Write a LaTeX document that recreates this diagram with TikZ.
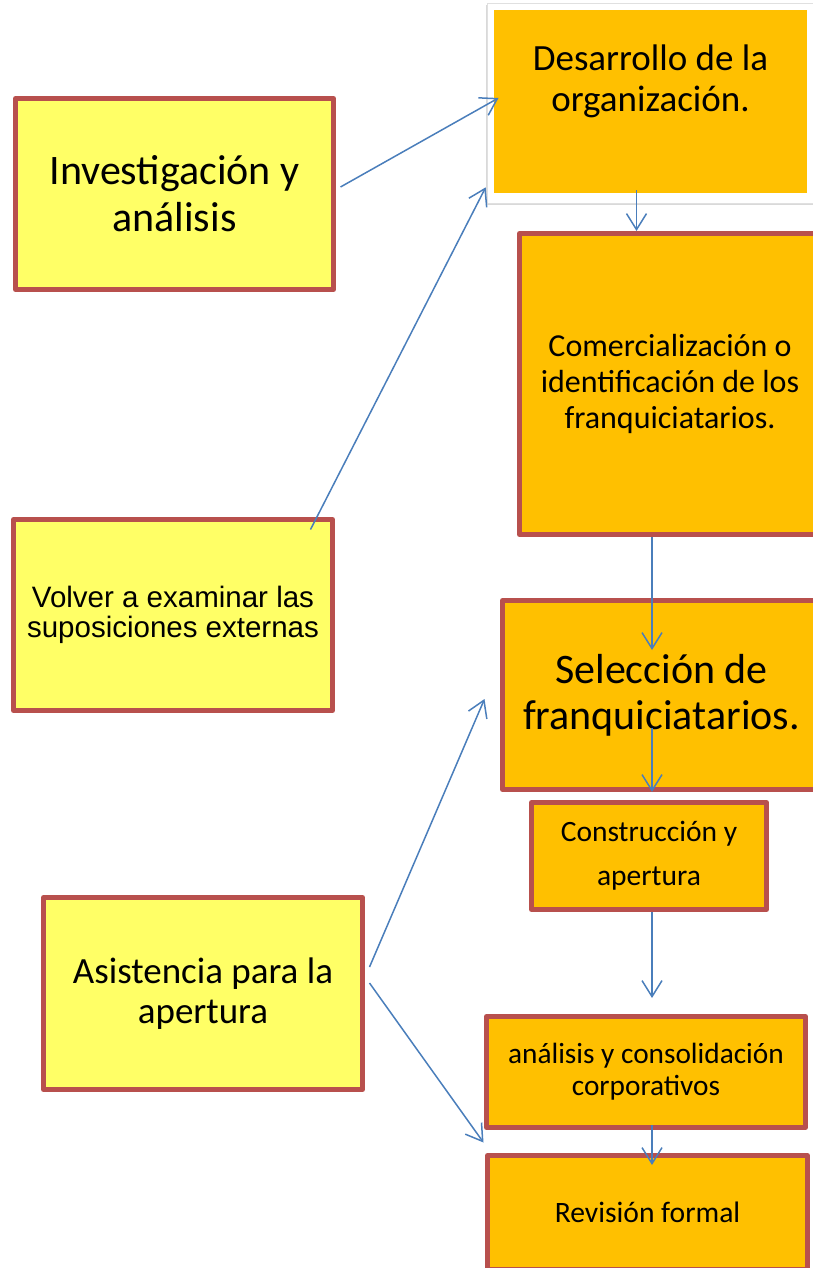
\documentclass[tikz,border=0pt]{standalone}
\usepackage{fontspec}
\setmainfont{Carlito}
\newfontfamily\arialfont{Liberation Sans}
\usetikzlibrary{arrows.meta,calc,shadows}
\definecolor{brick}{HTML}{B8504D}
\definecolor{lemon}{HTML}{FFFF66}
\definecolor{amber}{HTML}{FFC000}
\definecolor{steel}{HTML}{4A7EBB}

\begin{document}
\begin{tikzpicture}[x=1pt,y=-1pt,
  box/.style={draw=brick,line width=5pt,line join=round,align=center,inner sep=0pt},
  yel/.style={box,fill=lemon},
  org/.style={box,fill=amber},
  marcobox/.style={fill=white,draw=black!12,line width=0.6pt,drop shadow={shadow xshift=-1.5pt,shadow yshift=-2pt,opacity=0.3}},
  arr/.style={-{Straight Barb[length=16pt,width=20pt]},draw=steel,line width=1.5pt}]
\useasboundingbox (0,0) rectangle (812,1268);
% left column
\node[yel,minimum width=318pt,minimum height=191pt,font=\fontsize{42}{47}\selectfont] (inv) at (174.5,194) {Investigación y\\análisis};
\node[yel,minimum width=319pt,minimum height=191pt,font=\arialfont\fontsize{29.5}{30}\selectfont] (volver) at (173,615) {Volver a examinar las\\suposiciones externas};
\node[yel,minimum width=319pt,minimum height=192pt,font=\fontsize{37}{40}\selectfont] (asis) at (203,993.5) {Asistencia para la\\apertura};
% right column
\node[marcobox,minimum width=333pt,minimum height=200pt] (marco) at (653.5,103) {};
\node[org,draw=none,minimum width=313pt,minimum height=183pt] (desa) at (650.5,101.5) {};
\node[font=\fontsize{37}{41}\selectfont,align=center,inner sep=0pt] (desatxt) at (650.5,81) {Desarrollo de la\\organización.};
\node[org,minimum width=301pt,minimum height=301pt,font=\fontsize{32}{36}\selectfont] (comer) at (670,384) {Comercialización o\\identificación de los\\franquiciatarios.};
\node[org,minimum width=318pt,minimum height=189pt,font=\fontsize{42}{46}\selectfont] (selec) at (661.5,695) {Selección de\\franquiciatarios.};
\node[org,minimum width=235pt,minimum height=107pt,font=\fontsize{29.5}{44}\selectfont] (constr) at (649,856) {Construcción y\\apertura};
\node[org,minimum width=319pt,minimum height=111pt,font=\fontsize{29.3}{32}\selectfont] (anal) at (646,1072) {análisis y consolidación\\corporativos};
\node[org,minimum width=320pt,minimum height=114pt,font=\fontsize{29.6}{32}\selectfont] (revis) at (647.5,1212.5) {Revisión formal};
% connectors
\coordinate (eje) at (652,0);
\coordinate (dbot) at ($(desa.south)+(-14,-5)$);
\draw[arr] ($(inv.east)+(4.5,-7)$) -- ($(desa.west)+(7,-3.5)$);
\draw[arr] ($(volver.north east)+(-24.5,12.5)$) -- ($(marco.south west)+(-1,-16)$);
\draw[arr] (dbot) -- (dbot |- comer.north);
\draw[arr] (comer.south -| eje) -- ($(selec.north -| eje)+(0,52)$);
\draw[arr] ($(selec.center -| eje)+(0,33)$) -- (selec.south -| eje);
\draw[arr] (constr.south -| eje) -- ($(anal.north -| eje)+(0,-16)$);
\draw[arr] ($(anal.south -| eje)+(0,-5)$) -- ($(revis.north -| eje)+(0,12)$);
\draw[arr] ($(asis.east)+(4.5,-26.5)$) -- ($(selec.west)+(-15.5,4)$);
\draw[arr] ($(asis.east)+(4.5,-10.5)$) -- ($(revis.north west)+(-1.5,-10.5)$);
\end{tikzpicture}
\end{document}
